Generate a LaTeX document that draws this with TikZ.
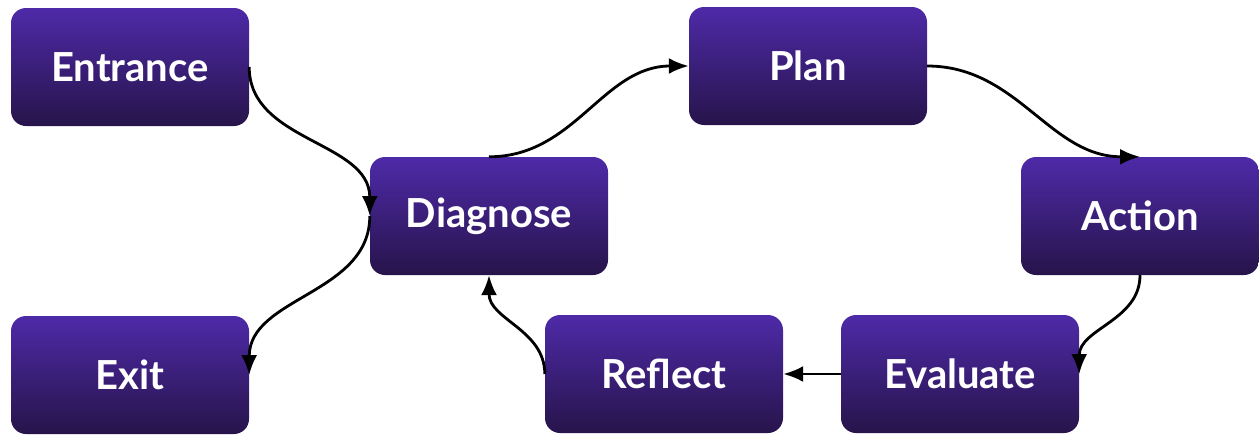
\documentclass[tikz,border=0pt]{standalone}
\usepackage{fontspec}
\setmainfont{Lato}
\usetikzlibrary{arrows.meta}
\definecolor{boxtop}{HTML}{4E2AA8}
\definecolor{boxbot}{HTML}{27144A}
\tikzset{
  stage/.style={shade, top color=boxtop, bottom color=boxbot, rounded corners=15pt,
    minimum width=238pt, minimum height=118pt, inner sep=0pt,
    text=white, font=\bfseries\fontsize{40}{46}\selectfont},
  link/.style={line width=2.8pt, -{Latex[length=20pt,width=16pt]}}
}
\begin{document}
\begin{tikzpicture}[x=1pt,y=-1pt]
\useasboundingbox (0,0) rectangle (1259,434);
\node[stage] (en) at (130,67) {Entrance};
\node[stage] (dg) at (489,216) {Diagnose};
\node[stage] (pl) at (808,66) {Plan};
\node[stage] (ac) at (1140,216) {Action};
\node[stage] (ev) at (960,374) {Evaluate};
\node[stage] (rf) at (664,374) {Reflect};
\node[stage] (ex) at (130,375) {Exit};
\draw[link] (en.east) to[out=-90,in=90] (dg.west);
\draw[link] (dg.west) to[out=-90,in=90] (ex.east);
\draw[link] (dg.north) to[out=0,in=180] (pl.west);
\draw[link] (pl.east) to[out=0,in=180] (ac.north);
\draw[link] (ac.south) to[out=-90,in=90] (ev.east);
\draw[link] (ev.west) -- (rf.east);
\draw[link] (rf.west) to[out=90,in=-90] (dg.south);
\end{tikzpicture}
\end{document}
